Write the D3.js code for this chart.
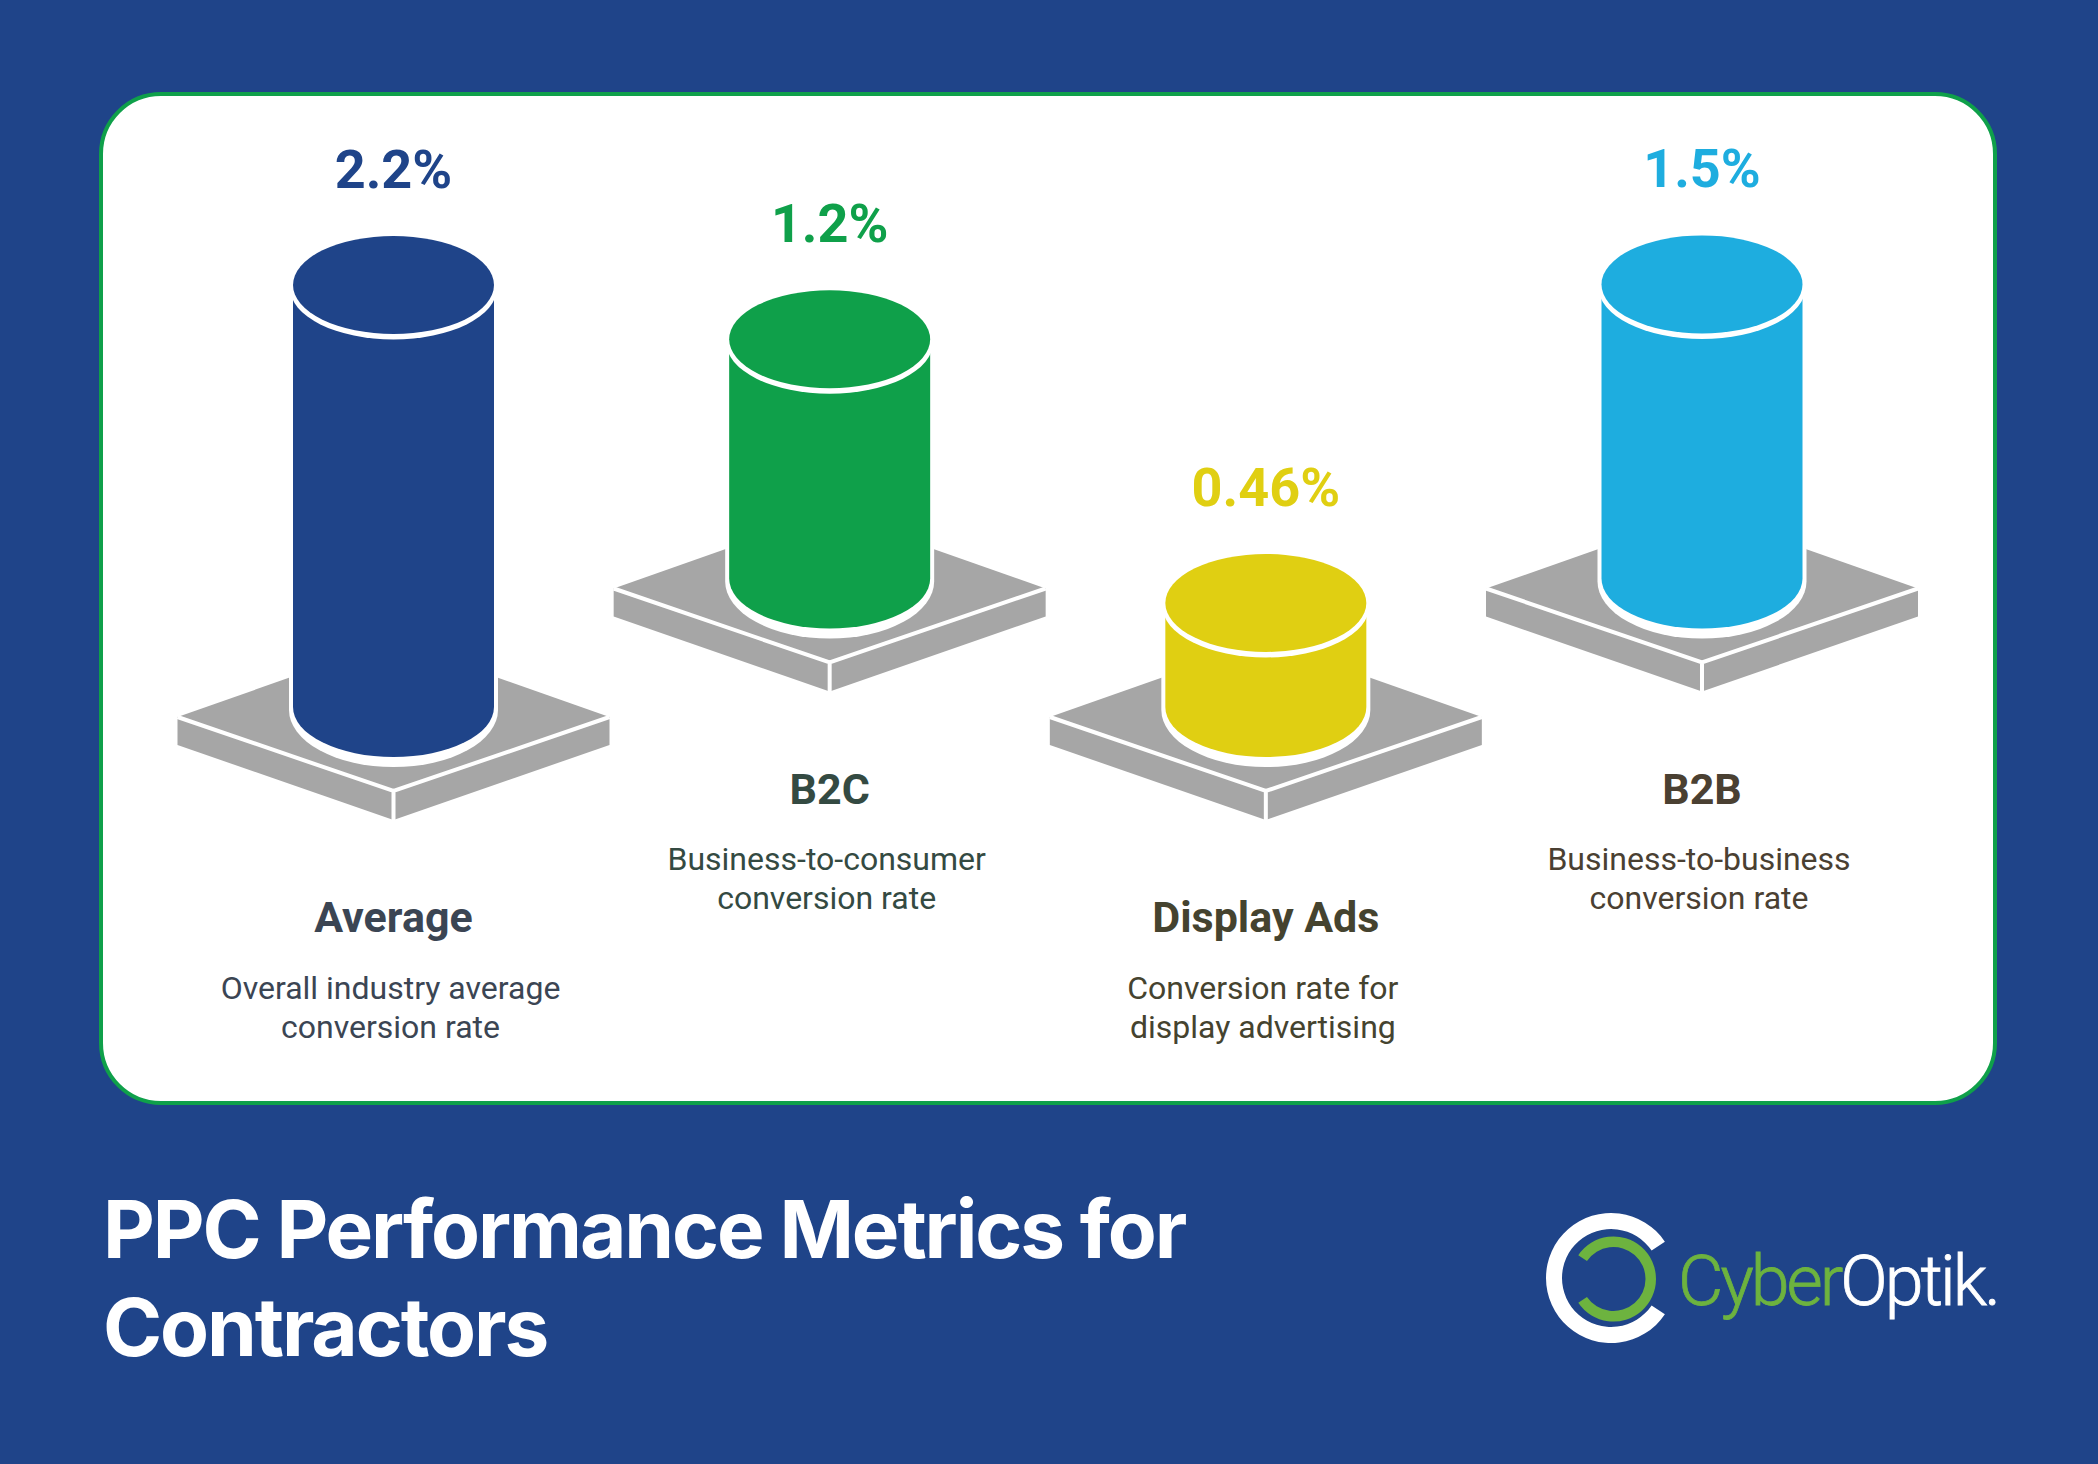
<!DOCTYPE html>
<html>
<head>
<meta charset="utf-8">
<script src="https://cdn.jsdelivr.net/npm/d3@7"></script>
<style>
  html, body { margin: 0; padding: 0; background: #1f4489; }
  svg { display: block; }
  text { font-family: Roboto, sans-serif; }
</style>
</head>
<body>
<div id="chart"></div>
<script>
// Chart data
var categories = ["Average", "B2C", "Display Ads", "B2B"];
var values = [2.2, 1.2, 0.46, 1.5];
var valueLabels = ["2.2%", "1.2%", "0.46%", "1.5%"];
var descriptions = [
    ["Overall industry average", "conversion rate"],
    ["Business-to-consumer", "conversion rate"],
    ["Conversion rate for", "display advertising"],
    ["Business-to-business", "conversion rate"]
];
var barColors = ["#1f4489", "#0fa04a", "#e0cf12", "#1eaddf"];
var labelColors = ["#3b4553", "#344a42", "#45432f", "#4a4032"];
var titleLines = ["PPC Performance Metrics for", "Contractors"];

// Dimensions
var width = 2098;
var height = 1464;
var rx = 100.5;
var ry = 49;

var svg = d3.select("#chart")
    .append("svg")
    .attr("width", width)
    .attr("height", height);

svg.append("rect")
    .attr("width", width)
    .attr("height", height)
    .attr("fill", "#1f4489");

// White card
svg.append("rect")
    .attr("x", 101)
    .attr("y", 94)
    .attr("width", 1894)
    .attr("height", 1009)
    .attr("rx", 60)
    .attr("fill", "#ffffff")
    .attr("stroke", "#0fa04a")
    .attr("stroke-width", 4);

// Scales
var x = d3.scalePoint().domain(categories).range([393.5, 1702]);
var barHeight = d3.scaleLinear().domain([0, 2.2]).range([20, 422]);

// Columns alternate between a low and a raised row
function baseY(i) {
    return i % 2 === 0 ? 707 : 578.5;
}

var columns = svg.selectAll(".column")
    .data(categories)
    .join("g")
    .attr("class", "column");

// Gray plate under each cylinder
columns.each(function (d, i) {
    var g = d3.select(this);
    var cx = x(d);
    var y = baseY(i);

    g.append("path")
        .attr("fill", "#a6a6a6")
        .attr("d", "M" + (cx - 216) + "," + (y + 10) +
            "L" + cx + "," + (y - 66) +
            "L" + (cx + 216) + "," + (y + 10) +
            "L" + (cx + 216) + "," + (y + 38) +
            "L" + cx + "," + (y + 113) +
            "L" + (cx - 216) + "," + (y + 38) + "Z");

    // Bright front edges of the plate
    g.append("path")
        .attr("fill", "none")
        .attr("stroke", "#ffffff")
        .attr("stroke-width", 4)
        .attr("d", "M" + (cx - 216) + "," + (y + 10) +
            "L" + cx + "," + (y + 84) +
            "L" + (cx + 216) + "," + (y + 10) +
            "M" + cx + "," + (y + 84) +
            "L" + cx + "," + (y + 116));

    // Cylinder: white halo, body, then the lid
    var topY = y - barHeight(values[i]);
    g.append("path")
        .attr("fill", "#ffffff")
        .attr("d", "M" + (cx - rx - 4) + "," + topY +
            "L" + (cx - rx - 4) + "," + (y + 3) +
            "A" + (rx + 4) + "," + (ry + 8) + " 0 0 0 " + (cx + rx + 4) + "," + (y + 3) +
            "L" + (cx + rx + 4) + "," + topY + "Z");

    g.append("path")
        .attr("fill", barColors[i])
        .attr("d", "M" + (cx - rx) + "," + topY +
            "L" + (cx - rx) + "," + y +
            "A" + rx + "," + (ry + 1) + " 0 0 0 " + (cx + rx) + "," + y +
            "L" + (cx + rx) + "," + topY + "Z");

    g.append("ellipse")
        .attr("cx", cx)
        .attr("cy", topY + 3)
        .attr("rx", rx + 3)
        .attr("ry", ry + 2.5)
        .attr("fill", "#ffffff");

    g.append("ellipse")
        .attr("cx", cx)
        .attr("cy", topY)
        .attr("rx", rx)
        .attr("ry", ry)
        .attr("fill", barColors[i]);

    // Value above the cylinder
    g.append("text")
        .attr("x", cx)
        .attr("y", topY - 97)
        .attr("text-anchor", "middle")
        .attr("font-size", 54)
        .attr("font-weight", 700)
        .attr("fill", barColors[i])
        .text(valueLabels[i]);

    // Category and description
    g.append("text")
        .attr("x", cx)
        .attr("y", y + 225)
        .attr("text-anchor", "middle")
        .attr("font-size", 43)
        .attr("font-weight", 700)
        .attr("fill", labelColors[i])
        .text(d);

    descriptions[i].forEach(function (line, j) {
        g.append("text")
            .attr("x", cx - 3)
            .attr("y", y + 291.5 + j * 39)
            .attr("text-anchor", "middle")
            .attr("font-size", 32)
            .attr("fill", labelColors[i])
            .text(line);
    });
});

// Title
svg.selectAll(".title")
    .data(titleLines)
    .join("text")
    .attr("class", "title")
    .attr("x", 103)
    .attr("y", function (d, i) { return 1258 + i * 98; })
    .attr("font-size", 80)
    .attr("font-weight", 700)
    .style("font-family", "Inter, sans-serif")
    .style("letter-spacing", "-2.1px")
    .attr("fill", "#ffffff")
    .text(function (d) { return d; });

// Logo
var logo = svg.append("g").attr("class", "logo");

logo.append("path")
    .attr("transform", "translate(1611,1278)")
    .attr("fill", "#ffffff")
    .attr("d", d3.arc()({
        innerRadius: 49,
        outerRadius: 65,
        startAngle: 124 * Math.PI / 180,
        endAngle: 416 * Math.PI / 180
    }));

logo.append("path")
    .attr("transform", "translate(1613.5,1279)")
    .attr("fill", "#6db33f")
    .attr("d", d3.arc()({
        innerRadius: 32,
        outerRadius: 42.5,
        startAngle: -56 * Math.PI / 180,
        endAngle: 236 * Math.PI / 180
    }));

var logoText = logo.append("text")
    .attr("x", 1678)
    .attr("y", 1305)
    .attr("font-size", 70)
    .attr("font-weight", 300)
    .attr("stroke-width", 0.8)
    .style("letter-spacing", "-3px");

logoText.append("tspan").attr("fill", "#6db33f").attr("stroke", "#6db33f").text("Cyber");
logoText.append("tspan").attr("fill", "#ffffff").attr("stroke", "#ffffff").text("Optik.");
</script>
</body>
</html>
